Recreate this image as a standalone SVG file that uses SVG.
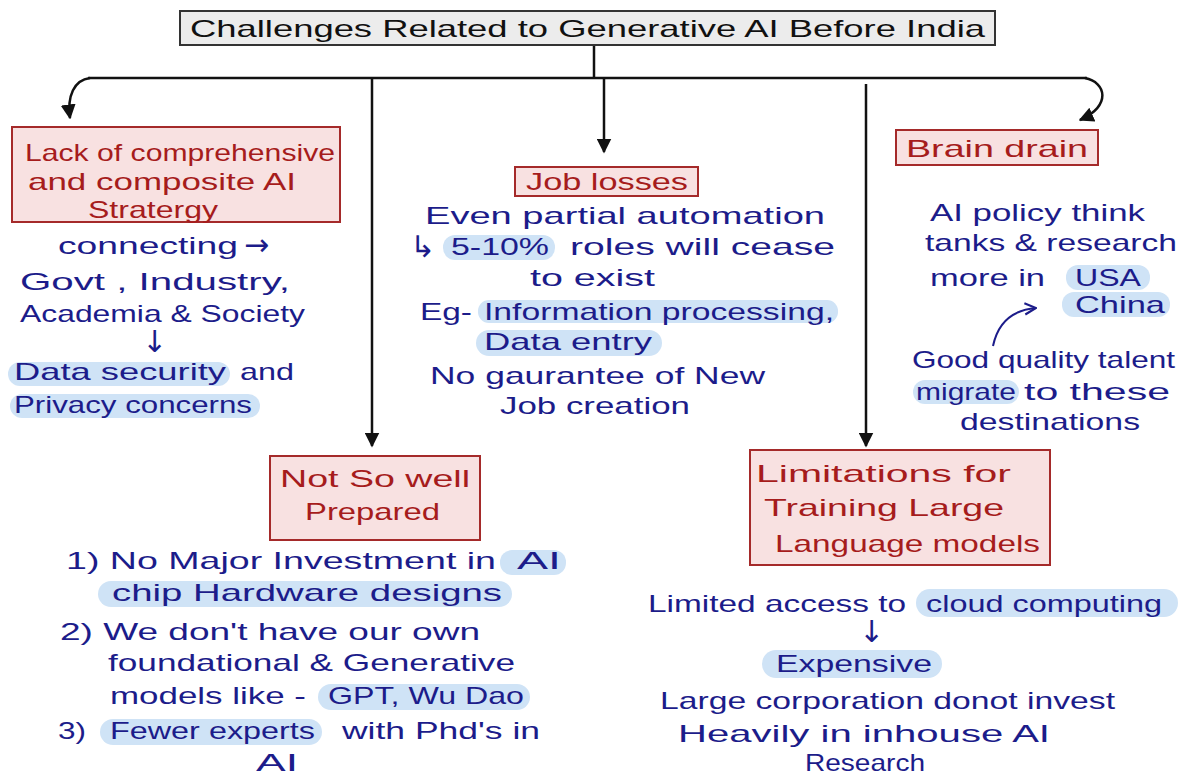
<svg xmlns="http://www.w3.org/2000/svg" width="1187" height="776" viewBox="0 0 1187 776">
<defs>
<style>
.t{font-family:"Liberation Sans",Arial,sans-serif;font-size:24px;fill:#1c1c8a}
.a{font-family:"DejaVu Sans",sans-serif;font-size:30px;fill:#1c1c8a}
.r{font-family:"Liberation Sans",Arial,sans-serif;font-size:24px;fill:#a61c1c}
.ti{font-family:"Liberation Sans",Arial,sans-serif;font-size:24px;fill:#111}
.box{fill:#f8e1e1;stroke:#a52a2a;stroke-width:2}
.hl{fill:#cfe3f6}
.ln{stroke:#111;stroke-width:2.5;fill:none}
</style>
<marker id="ah" viewBox="0 0 10 10" refX="9" refY="5" markerWidth="6" markerHeight="6" orient="auto-start-reverse">
<path d="M0,0 L10,5 L0,10 Z" fill="#111"/>
</marker>
<marker id="oa" viewBox="0 0 10 10" refX="9" refY="5" markerWidth="7" markerHeight="7" orient="auto">
<path d="M1,1 L9,5 L1,9" fill="none" stroke="#1c1c8a" stroke-width="1.5"/>
</marker>
</defs>
<rect width="1187" height="776" fill="#ffffff"/>

<g id="connectors">
<path class="ln" d="M594 45 V78"/>
<path class="ln" d="M88 78 H1087"/>
<path class="ln" d="M90 78 C74 80 67 96 70 118" marker-end="url(#ah)"/>
<path class="ln" d="M1085 78 C1106 82 1112 106 1080 120" marker-end="url(#ah)"/>
<path class="ln" d="M372 78 V446" marker-end="url(#ah)"/>
<path class="ln" d="M604 78 V152" marker-end="url(#ah)"/>
<path class="ln" d="M866 84 V446" marker-end="url(#ah)"/>
<path d="M993 346 C998 322 1012 310 1036 308" fill="none" stroke="#1c1c8a" stroke-width="2" marker-end="url(#oa)"/>
</g>

<g id="title">
<rect x="180" y="11" width="815" height="34" fill="#ececec" stroke="#333" stroke-width="2"/>
<text class="ti" x="190" y="37" textLength="795" lengthAdjust="spacingAndGlyphs">Challenges   Related  to  Generative   AI  Before  India</text>
</g>

<g id="lack-strategy">
<rect class="box" x="12" y="127" width="328" height="95"/>
<text class="r" x="25" y="161" textLength="310" lengthAdjust="spacingAndGlyphs">Lack of  comprehensive</text>
<text class="r" x="28" y="190" textLength="268" lengthAdjust="spacingAndGlyphs">and  composite AI</text>
<text class="r" x="88" y="218" textLength="130" lengthAdjust="spacingAndGlyphs">Stratergy</text>
<text class="t" x="58" y="254" textLength="180" lengthAdjust="spacingAndGlyphs">connecting</text>
<text class="a" x="244" y="255">→</text>
<text class="t" x="20" y="290" textLength="270" lengthAdjust="spacingAndGlyphs">Govt ,  Industry,</text>
<text class="t" x="20" y="322" textLength="285" lengthAdjust="spacingAndGlyphs">Academia  &amp;  Society</text>
<text class="a" x="142" y="352">↓</text>
<rect class="hl" x="8" y="362" width="222" height="24" rx="12"/>
<rect class="hl" x="10" y="394" width="250" height="24" rx="12"/>
<text class="t" x="14" y="380" textLength="212" lengthAdjust="spacingAndGlyphs">Data  security</text>
<text class="t" x="240" y="380" textLength="54" lengthAdjust="spacingAndGlyphs">and</text>
<text class="t" x="14" y="413" textLength="238" lengthAdjust="spacingAndGlyphs">Privacy  concerns</text>
</g>

<g id="job-losses">
<rect class="box" x="515" y="167" width="183" height="29"/>
<text class="r" x="526" y="190" textLength="162" lengthAdjust="spacingAndGlyphs">Job  losses</text>
<text class="t" x="425" y="224" textLength="400" lengthAdjust="spacingAndGlyphs">Even  partial  automation</text>
<rect class="hl" x="443" y="235" width="112" height="25" rx="12"/>
<text class="a" x="410" y="257">↳</text>
<text class="t" x="451" y="255" textLength="98" lengthAdjust="spacingAndGlyphs">5-10%</text>
<text class="t" x="570" y="255" textLength="265" lengthAdjust="spacingAndGlyphs">roles  will  cease</text>
<text class="t" x="530" y="286" textLength="125" lengthAdjust="spacingAndGlyphs">to  exist</text>
<rect class="hl" x="478" y="300" width="360" height="23" rx="11"/>
<text class="t" x="420" y="320" textLength="52" lengthAdjust="spacingAndGlyphs">Eg-</text>
<text class="t" x="484" y="320" textLength="350" lengthAdjust="spacingAndGlyphs">Information  processing,</text>
<rect class="hl" x="476" y="330" width="186" height="26" rx="13"/>
<text class="t" x="484" y="350" textLength="168" lengthAdjust="spacingAndGlyphs">Data  entry</text>
<text class="t" x="430" y="384" textLength="335" lengthAdjust="spacingAndGlyphs">No  gaurantee  of  New</text>
<text class="t" x="500" y="414" textLength="190" lengthAdjust="spacingAndGlyphs">Job  creation</text>
</g>

<g id="brain-drain">
<rect class="box" x="896" y="130" width="202" height="35"/>
<text class="r" x="906" y="157" textLength="182" lengthAdjust="spacingAndGlyphs">Brain  drain</text>
<text class="t" x="930" y="221" textLength="215" lengthAdjust="spacingAndGlyphs">AI policy think</text>
<text class="t" x="925" y="251" textLength="252" lengthAdjust="spacingAndGlyphs">tanks &amp; research</text>
<rect class="hl" x="1066" y="265" width="84" height="25" rx="12"/>
<rect class="hl" x="1062" y="292" width="108" height="25" rx="12"/>
<text class="t" x="930" y="286" textLength="115" lengthAdjust="spacingAndGlyphs">more in</text>
<text class="t" x="1075" y="286" textLength="66" lengthAdjust="spacingAndGlyphs">USA</text>
<text class="t" x="1075" y="313" textLength="90" lengthAdjust="spacingAndGlyphs">China</text>
<rect class="hl" x="913" y="380" width="106" height="24" rx="12"/>
<text class="t" x="912" y="368" textLength="263" lengthAdjust="spacingAndGlyphs">Good quality talent</text>
<text class="t" x="916" y="400" textLength="100" lengthAdjust="spacingAndGlyphs">migrate</text>
<text class="t" x="1024" y="400" textLength="146" lengthAdjust="spacingAndGlyphs">to these</text>
<text class="t" x="960" y="430" textLength="180" lengthAdjust="spacingAndGlyphs">destinations</text>
</g>

<g id="not-prepared">
<rect class="box" x="270" y="456" width="210" height="84"/>
<text class="r" x="280" y="487" textLength="190" lengthAdjust="spacingAndGlyphs">Not  So  well</text>
<text class="r" x="305" y="520" textLength="135" lengthAdjust="spacingAndGlyphs">Prepared</text>
<rect class="hl" x="500" y="550" width="66" height="25" rx="12"/>
<rect class="hl" x="98" y="581" width="414" height="26" rx="13"/>
<text class="t" x="66" y="569" textLength="430" lengthAdjust="spacingAndGlyphs">1) No Major  Investment  in</text>
<text class="t" x="517" y="569" textLength="44" lengthAdjust="spacingAndGlyphs">AI</text>
<text class="t" x="112" y="601" textLength="390" lengthAdjust="spacingAndGlyphs">chip  Hardware  designs</text>
<text class="t" x="60" y="640" textLength="420" lengthAdjust="spacingAndGlyphs">2) We don't  have  our own</text>
<text class="t" x="108" y="671" textLength="407" lengthAdjust="spacingAndGlyphs">foundational &amp; Generative</text>
<rect class="hl" x="318" y="684" width="212" height="26" rx="13"/>
<text class="t" x="110" y="704" textLength="196" lengthAdjust="spacingAndGlyphs">models  like -</text>
<text class="t" x="328" y="704" textLength="196" lengthAdjust="spacingAndGlyphs">GPT, Wu Dao</text>
<rect class="hl" x="100" y="719" width="222" height="26" rx="13"/>
<text class="t" x="58" y="739" textLength="28" lengthAdjust="spacingAndGlyphs">3)</text>
<text class="t" x="110" y="739" textLength="205" lengthAdjust="spacingAndGlyphs">Fewer  experts</text>
<text class="t" x="342" y="739" textLength="198" lengthAdjust="spacingAndGlyphs">with  Phd's  in</text>
<text class="t" x="256" y="771" textLength="42" lengthAdjust="spacingAndGlyphs">AI</text>
</g>

<g id="limitations">
<rect class="box" x="750" y="450" width="300" height="115"/>
<text class="r" x="756" y="482" textLength="255" lengthAdjust="spacingAndGlyphs">Limitations  for</text>
<text class="r" x="764" y="516" textLength="240" lengthAdjust="spacingAndGlyphs">Training  Large</text>
<text class="r" x="775" y="552" textLength="265" lengthAdjust="spacingAndGlyphs">Language models</text>
<rect class="hl" x="916" y="589" width="262" height="28" rx="14"/>
<text class="t" x="648" y="612" textLength="258" lengthAdjust="spacingAndGlyphs">Limited  access to</text>
<text class="t" x="926" y="612" textLength="236" lengthAdjust="spacingAndGlyphs">cloud  computing</text>
<text class="a" x="859" y="642">↓</text>
<rect class="hl" x="762" y="650" width="180" height="28" rx="14"/>
<text class="t" x="776" y="672" textLength="156" lengthAdjust="spacingAndGlyphs">Expensive</text>
<text class="t" x="660" y="709" textLength="455" lengthAdjust="spacingAndGlyphs">Large  corporation donot  invest</text>
<text class="t" x="678" y="742" textLength="372" lengthAdjust="spacingAndGlyphs">Heavily  in  inhouse  AI</text>
<text class="t" x="805" y="771" textLength="120" lengthAdjust="spacingAndGlyphs">Research</text>
</g>
</svg>
